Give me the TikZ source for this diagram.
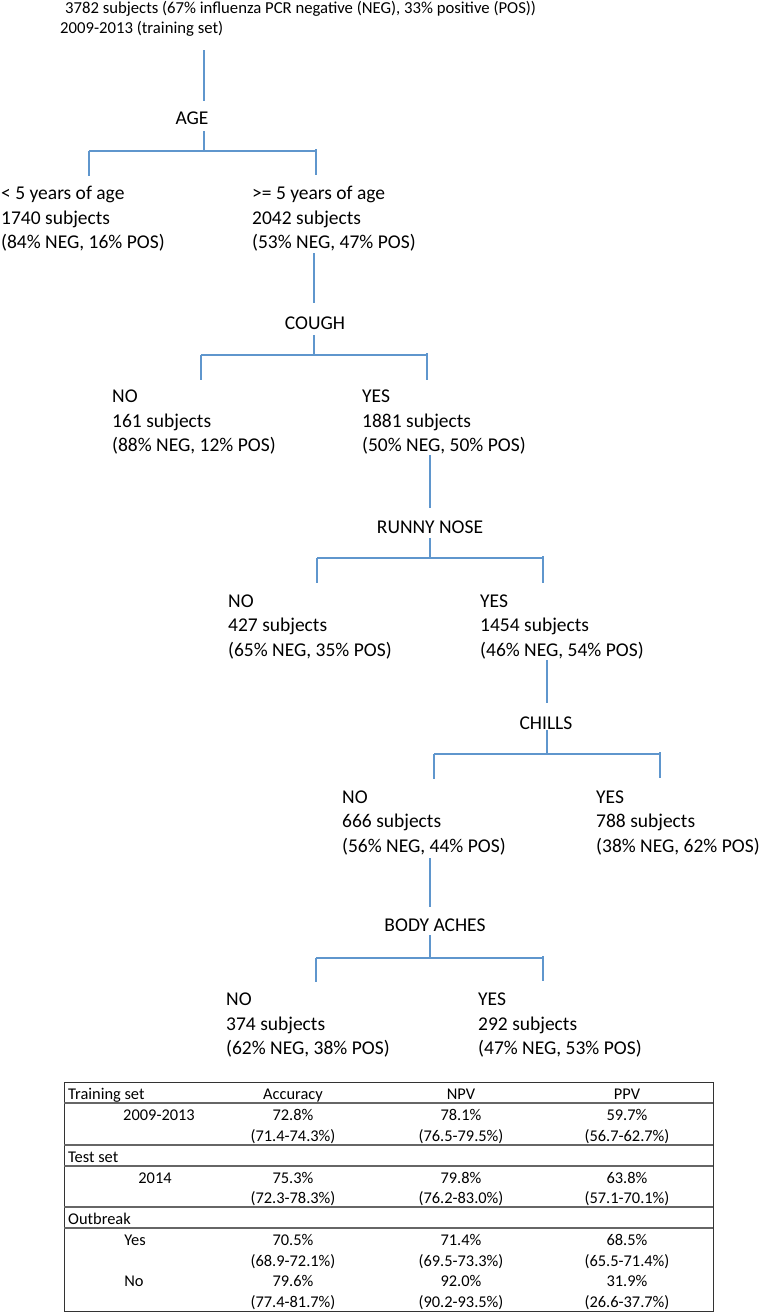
\documentclass[tikz,border=0pt]{standalone}
\usepackage{fontspec}
\setmainfont{Carlito}
\definecolor{linkblue}{RGB}{95,150,205}
\begin{document}
\begin{tikzpicture}[x=1pt,y=-1pt,
  branch/.style={draw=linkblue, line width=1.3pt},
  tnode/.style={anchor=base west, align=left, inner sep=0pt, font=\fontsize{19.5}{24.5}\selectfont},
  split/.style={anchor=base, inner sep=0pt, font=\fontsize{19.5}{24.5}\selectfont},
  topnode/.style={anchor=base west, inner sep=0pt, font=\fontsize{16.7}{20}\selectfont},
  tcell/.style={anchor=base, inner sep=0pt, font=\fontsize{16.4}{20.8}\selectfont},
  tlab/.style={anchor=base west, inner sep=0pt, font=\fontsize{16.4}{20.8}\selectfont},
  border/.style={draw=black!80, line width=1pt},
  rowrule/.style={draw=black!60, line width=1.3pt}]
\useasboundingbox (0,0) rectangle (759,1312);

% ---------- root text ----------
\node[topnode] (root1) at (65,13.5) {3782 subjects (67\% influenza PCR negative (NEG), 33\% positive (POS))};
\node[topnode] (root2) at (60,33.5) {2009-2013 (training set)};

% ---------- split labels ----------
\node[split] (age)   at (192,124.5) {AGE};
\node[split] (cough) at (315,329.5) {COUGH};
\node[split] (runny) at (430,533.5) {RUNNY NOSE};
\node[split] (chill) at (546,729.5) {CHILLS};
\node[split] (body)  at (435,931.5) {BODY ACHES};

% ---------- child nodes (base = last line) ----------
\node[tnode] (lt5)   at (1,248.5)   {< 5 years of age\\1740 subjects\\(84\% NEG, 16\% POS)};
\node[tnode] (ge5)   at (252,248.5) {>= 5 years of age\\2042 subjects\\(53\% NEG, 47\% POS)};
\node[tnode] (cno)   at (112,451.5) {NO\\161 subjects\\(88\% NEG, 12\% POS)};
\node[tnode] (cyes)  at (362,451.5) {YES\\1881 subjects\\(50\% NEG, 50\% POS)};
\node[tnode] (rno)   at (228,656) {NO\\427 subjects\\(65\% NEG, 35\% POS)};
\node[tnode] (ryes)  at (480,656) {YES\\1454 subjects\\(46\% NEG, 54\% POS)};
\node[tnode] (chno)  at (342,852) {NO\\666 subjects\\(56\% NEG, 44\% POS)};
\node[tnode] (chyes) at (596,852) {YES\\788 subjects\\(38\% NEG, 62\% POS)};
\node[tnode] (bno)   at (226,1054.5) {NO\\374 subjects\\(62\% NEG, 38\% POS)};
\node[tnode] (byes)  at (478,1054.5) {YES\\292 subjects\\(47\% NEG, 53\% POS)};

% ---------- connector coordinates ----------
% AGE
\coordinate (a0) at (204,50);  \coordinate (a1) at (204,101);
\coordinate (a2) at (204,131); \coordinate (a3) at (204,151);
\coordinate (aL) at (89,151);  \coordinate (aLd) at (89,176);
\coordinate (aR) at (316,151); \coordinate (aRu) at (316,149); \coordinate (aRd) at (316,175);
% COUGH
\coordinate (c0) at (314,253); \coordinate (c1) at (314,303);
\coordinate (c2) at (314,335); \coordinate (c3) at (314,355);
\coordinate (cL) at (201,355); \coordinate (cLd) at (201,380);
\coordinate (cR) at (427,355); \coordinate (cRu) at (427,353); \coordinate (cRd) at (427,380);
% RUNNY NOSE
\coordinate (r0) at (430,455); \coordinate (r1) at (430,508);
\coordinate (r2) at (430,538); \coordinate (r3) at (430,558);
\coordinate (rL) at (317,558); \coordinate (rLd) at (317,583);
\coordinate (rR) at (543,558); \coordinate (rRu) at (543,556); \coordinate (rRd) at (543,583);
% CHILLS
\coordinate (h0) at (547,660); \coordinate (h1) at (547,703);
\coordinate (h2) at (547,730); \coordinate (h3) at (547,754);
\coordinate (hL) at (434,754); \coordinate (hLd) at (434,779);
\coordinate (hR) at (660,754); \coordinate (hRu) at (660,752); \coordinate (hRd) at (660,778);
% BODY ACHES
\coordinate (b0) at (430,858); \coordinate (b1) at (430,907);
\coordinate (b2) at (430,935); \coordinate (b3) at (430,958);
\coordinate (bL) at (316,958); \coordinate (bLd) at (316,982);
\coordinate (bR) at (543,958); \coordinate (bRu) at (543,956); \coordinate (bRd) at (543,981);

% ---------- connectors ----------
\foreach \p in {a,c,r,h,b}{
  \draw[branch] (\p0) -- (\p1);
  \draw[branch] (\p2) -- (\p3);
  \draw[branch] (\p L) -- (\p R);
  \draw[branch] (\p L) -- (\p Ld);
  \draw[branch] (\p Ru) -- (\p Rd);
}

% ---------- table ----------
\coordinate (tTL) at (64,1082);  \coordinate (tBR) at (713,1311);
\draw[border] (tTL) rectangle (tBR);
\foreach \yy in {1103,1145,1166,1207,1228}{
  \draw[rowrule] (64,\yy) -- (713,\yy);
}
% header
\node[tlab]  (hTrain) at (68,1099.5)  {Training set};
\node[tcell] (hAcc)   at (293,1099.5) {Accuracy};
\node[tcell] (hNpv)   at (461,1099.5) {NPV};
\node[tcell] (hPpv)   at (627,1099.5) {PPV};
% training
\node[tcell] (tr0)  at (159,1120.5) {2009-2013};
\node[tcell] (tra1) at (293,1120.5) {72.8\%};
\node[tcell] (trn1) at (461,1120.5) {78.1\%};
\node[tcell] (trp1) at (627,1120.5) {59.7\%};
\node[tcell] (tra2) at (293,1141.5) {(71.4-74.3\%)};
\node[tcell] (trn2) at (461,1141.5) {(76.5-79.5\%)};
\node[tcell] (trp2) at (627,1141.5) {(56.7-62.7\%)};
% test
\node[tlab]  (hTest) at (68,1162.5) {Test set};
\node[tcell] (te0)  at (155,1183.5) {2014};
\node[tcell] (tea1) at (293,1183.5) {75.3\%};
\node[tcell] (ten1) at (461,1183.5) {79.8\%};
\node[tcell] (tep1) at (627,1183.5) {63.8\%};
\node[tcell] (tea2) at (293,1203.5) {(72.3-78.3\%)};
\node[tcell] (ten2) at (461,1203.5) {(76.2-83.0\%)};
\node[tcell] (tep2) at (627,1203.5) {(57.1-70.1\%)};
% outbreak
\node[tlab]  (hOut) at (68,1224.5) {Outbreak};
\node[tcell] (oy0)  at (135,1245.5) {Yes};
\node[tcell] (oya1) at (293,1245.5) {70.5\%};
\node[tcell] (oyn1) at (461,1245.5) {71.4\%};
\node[tcell] (oyp1) at (627,1245.5) {68.5\%};
\node[tcell] (oya2) at (293,1266.5) {(68.9-72.1\%)};
\node[tcell] (oyn2) at (461,1266.5) {(69.5-73.3\%)};
\node[tcell] (oyp2) at (627,1266.5) {(65.5-71.4\%)};
\node[tcell] (on0)  at (134,1286.5) {No};
\node[tcell] (ona1) at (293,1286.5) {79.6\%};
\node[tcell] (onn1) at (461,1286.5) {92.0\%};
\node[tcell] (onp1) at (627,1286.5) {31.9\%};
\node[tcell] (ona2) at (293,1307.5) {(77.4-81.7\%)};
\node[tcell] (onn2) at (461,1307.5) {(90.2-93.5\%)};
\node[tcell] (onp2) at (627,1307.5) {(26.6-37.7\%)};
\end{tikzpicture}
\end{document}
